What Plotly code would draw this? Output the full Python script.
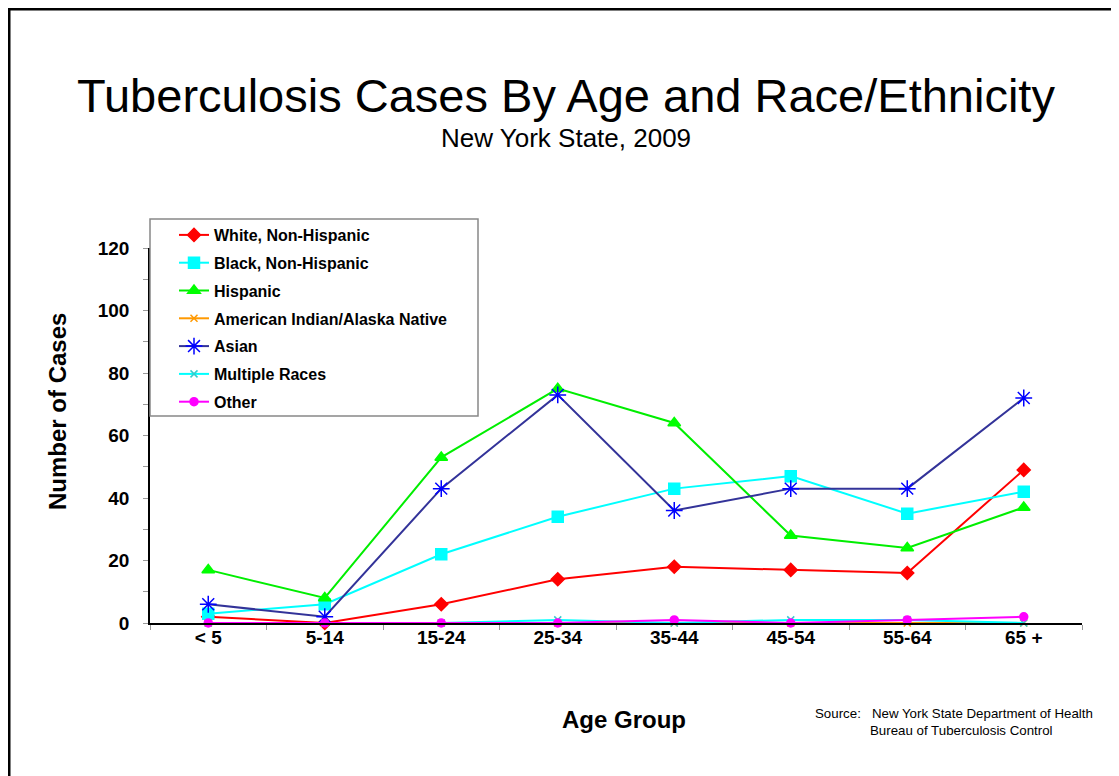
import plotly.graph_objects as go

age_groups = ["< 5", "5-14", "15-24", "25-34", "35-44", "45-54", "55-64", "65 +"]

white_non_hispanic = [2, 0, 6, 14, 18, 17, 16, 49]
black_non_hispanic = [3, 6, 22, 34, 43, 47, 35, 42]
hispanic = [17, 8, 53, 75, 64, 28, 24, 37]
american_indian = [0, 0, 0, 0, 0, 0, 0, 0]
asian = [6, 2, 43, 73, 36, 43, 43, 72]
multiple_races = [0, 0, 0, 1, 0, 1, 1, 0]
other = [0, 0, 0, 0, 1, 0, 1, 2]

y_ticks = [0, 20, 40, 60, 80, 100, 120]

# the page puts the figure 8px in from the window corner
OFF = 8
W, H = 1119 - OFF, 776 - OFF
L, R, T, B = 150, 1082, 248, 623  # plot area, window pixels


def px(x):
    return (x - L) / (R - L)


def py(y):
    return (B - y) / (B - T)


series = [
    ("White, Non-Hispanic", white_non_hispanic, "#FF0000", "#FF0000", "diamond", 10),
    ("Black, Non-Hispanic", black_non_hispanic, "#00FFFF", "#00FFFF", "square", 11),
    ("Hispanic", hispanic, "#00EE00", "#00FF00", "triangle-up", 11),
    ("American Indian/Alaska Native", american_indian, "#FF9900", "#FF9900", "x-thin", 7),
    ("Asian", asian, "#333399", "#0000FF", "asterisk", 14),
    ("Multiple Races", multiple_races, "#00FFFF", "#33CCCC", "x-thin", 7),
    ("Other", other, "#FF00FF", "#FF00FF", "circle", 8),
]

fig = go.Figure()
for i, (name, vals, lc, mc, sym, size) in enumerate(series):
    fig.add_trace(go.Scatter(
        x=age_groups, y=vals, name=name, mode="lines+markers",
        legendgroup=f"g{i}",
        line=dict(color=lc, width=2),
        marker=dict(symbol=sym, size=size, color=mc,
                    line=dict(color=mc, width=1.5)),
        cliponaxis=False,
    ))

font = "Liberation Sans, Arial, sans-serif"


def note(text, x, y, size, bold=False, xanchor="center", angle=0):
    return dict(text=text, xref="paper", yref="paper", x=px(x), y=py(y),
                xanchor=xanchor, yanchor="middle", textangle=angle,
                showarrow=False,
                font=dict(size=size, weight="bold" if bold else "normal"))


fig.update_layout(
    width=W, height=H,
    margin=dict(l=L - OFF, r=W - (R - OFF), t=T - OFF, b=H - (B - OFF), pad=0),
    paper_bgcolor="white", plot_bgcolor="white",
    font=dict(family=font, color="black"),
    showlegend=True,
    legend=dict(
        x=px(174), y=py(218), xanchor="left", yanchor="top",
        bgcolor="rgba(0,0,0,0)", borderwidth=0,
        font=dict(size=16, weight="bold"),
        tracegroupgap=4, itemwidth=30,
    ),
    xaxis=dict(
        type="category", range=[-0.5, 7.5],
        showline=True, linecolor="black", linewidth=1.5,
        ticks="outside", tickson="boundaries", ticklen=5, tickcolor="#999999",
        tickfont=dict(size=19, weight="bold"),
        ticklabelstandoff=-4,
        showgrid=False, zeroline=False,
    ),
    yaxis=dict(
        range=[0, 120], tickvals=y_ticks,
        showline=True, linecolor="black", linewidth=1.5,
        ticks="outside", ticklen=5, tickcolor="#999999",
        minor=dict(ticks="outside", dtick=10, ticklen=5, tickcolor="#999999"),
        tickfont=dict(size=19, weight="bold"),
        ticklabelstandoff=10,
        showgrid=False, zeroline=False,
    ),
    shapes=[
        # outer frame (only top/left visible in the original)
        dict(type="rect", xref="paper", yref="paper",
             x0=px(OFF + 1.25), x1=px(1119 + 20), y0=py(776 + 20), y1=py(OFF + 1.25),
             line=dict(color="black", width=2.5), fillcolor="rgba(0,0,0,0)"),
        # legend box
        dict(type="rect", xref="paper", yref="paper", layer="above",
             x0=px(150), x1=px(478), y0=py(416), y1=py(219),
             line=dict(color="#888888", width=1.5), fillcolor="white"),
    ],
    annotations=[
        note("Tuberculosis Cases By Age and Race/Ethnicity", 566, 95, 47),
        note("New York State, 2009", 566, 138, 26),
        note("Number of Cases", 57, 412, 24, bold=True, angle=-90),
        note("Age Group", 624, 719, 24, bold=True),
        note("Source:   New York State Department of Health", 813, 713, 13.3,
             xanchor="left"),
        note("Bureau of Tuberculosis Control", 868, 730, 13.3, xanchor="left"),
    ],
)

fig.write_html("out.html")
